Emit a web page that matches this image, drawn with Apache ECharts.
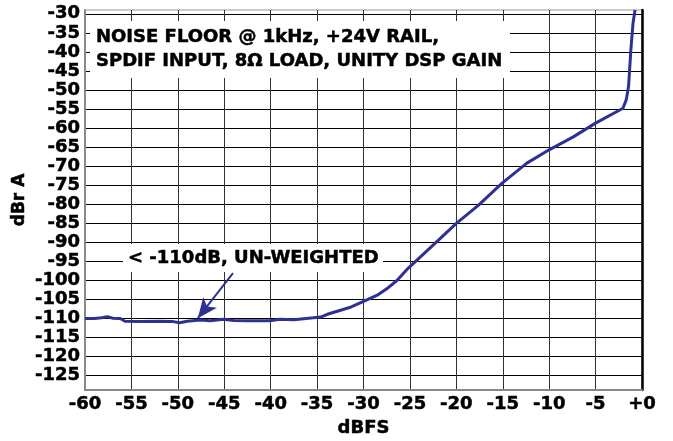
<!DOCTYPE html>
<html>
<head>
<meta charset="utf-8">
<script src="https://cdn.jsdelivr.net/npm/echarts@6/dist/echarts.min.js"></script>
<style>
  html, body { margin: 0; padding: 0; background: #fff; }
  #chart { width: 673px; height: 441px; }
</style>
</head>
<body>
<div id="chart"></div>
<script>
// data
var dbfs = [-60, -59, -58.2, -57.6, -57, -56.2, -55.7, -54, -52, -50.5, -49.8, -49, -47.6, -46.5, -45.1, -44,
  -42.6, -40.1, -39, -37.5, -35.4, -34.6, -33.8, -31.5, -30, -28.4, -27.5, -26.4, -25.2, -22.1, -20, -17.6,
  -15.1, -12.4, -10, -7.4, -5, -2.05, -1.7, -1.45, -1.2, -0.97, -0.75];
var dbrA = [-110, -110, -109.8, -109.5, -109.9, -110, -110.7, -110.8, -110.7, -110.8, -111.1, -110.7, -110.4,
  -110.6, -110.2, -110.5, -110.6, -110.6, -110.2, -110.3, -109.8, -109.6, -108.8, -107.1, -105.5, -103.7,
  -102.2, -100, -96.8, -89.8, -85, -80.2, -74.5, -69.2, -65.7, -62.3, -58.7, -54.8, -52.6, -49.1, -39.5,
  -32.5, -29];

var xTicks = [-60, -55, -50, -45, -40, -35, -30, -25, -20, -15, -10, -5, 0];
var xTickLabels = ['-60', '-55', '-50', '-45', '-40', '-35', '-30', '-25', '-20', '-15', '-10', '-5', '+0'];
var yTicks = [-30, -35, -40, -45, -50, -55, -60, -65, -70, -75, -80, -85, -90, -95, -100, -105, -110, -115, -120, -125];

// annotation arrow (data coords)
var arrowFrom = [-44.06, -98.1];
var arrowTo = [-47.85, -109.9];

var FONT = '"DejaVu Sans", Verdana, sans-serif';
var lineColor = '#2e3192';
// a hair of stroke to get closer to the heavy Verdana look
var heavy = { textBorderColor: '#000', textBorderWidth: 0.5 };

var chart = echarts.init(document.getElementById('chart'));

var points = dbfs.map(function (x, i) { return [x, dbrA[i]]; });

chart.setOption({
  animation: false,
  grid: {
    left: 85, right: 31, top: 10, bottom: 51,
    outerBoundsMode: 'none',
    show: true, borderColor: '#999', borderWidth: 1
  },
  xAxis: {
    type: 'value',
    min: -60,
    max: 0,
    name: 'dBFS',
    nameLocation: 'middle',
    nameGap: 29,
    nameMoveOverlap: false,
    nameTextStyle: Object.assign({ fontFamily: FONT, fontWeight: 'bold', fontSize: 18, color: '#000' }, heavy),
    axisLine: { show: true, onZero: false, lineStyle: { color: '#888', width: 2 } },
    axisTick: { show: false, customValues: xTicks },
    axisLabel: Object.assign({
      customValues: xTicks,
      margin: 5,
      fontFamily: FONT, fontWeight: 'bold', fontSize: 18, color: '#000',
      formatter: function (v) { return xTickLabels[xTicks.indexOf(v)]; }
    }, heavy),
    splitLine: { show: true, lineStyle: { color: '#333', width: 1 } }
  },
  yAxis: [{
    type: 'value',
    min: -128.75,
    max: -29,
    name: 'dBr A',
    nameLocation: 'middle',
    nameGap: 57,
    nameMoveOverlap: false,
    nameTextStyle: Object.assign({ fontFamily: FONT, fontWeight: 'bold', fontSize: 17, color: '#000' }, heavy),
    axisLine: { show: true, onZero: false, lineStyle: { color: '#888', width: 2 } },
    axisTick: { show: false, customValues: yTicks },
    axisLabel: Object.assign({
      customValues: yTicks,
      margin: 5,
      fontFamily: FONT, fontWeight: 'bold', fontSize: 18, color: '#000'
    }, heavy),
    splitLine: { show: true, lineStyle: { color: '#000', width: 1 } }
  }, {
    type: 'value',
    position: 'right',
    min: -128.75,
    max: -29,
    axisLine: { show: true, onZero: false, lineStyle: { color: '#000', width: 2.5 } },
    axisTick: { show: false },
    axisLabel: { show: false },
    splitLine: { show: false }
  }],
  series: [{
    type: 'line',
    data: points,
    showSymbol: false,
    lineStyle: { color: lineColor, width: 3 },
    z: 5,
    markLine: {
      silent: true,
      symbol: ['none', 'arrow'],
      symbolSize: [13, 20],
      label: { show: false },
      lineStyle: { color: lineColor, width: 2, type: 'solid' },
      data: [[{ coord: arrowFrom }, { coord: arrowTo }]]
    }
  }],
  graphic: [
    { type: 'rect', z: 100, shape: { x: 90, y: 21, width: 420, height: 57 }, style: { fill: '#fff' } },
    {
      type: 'text', z: 101, x: 96, y: 26,
      style: {
        text: 'NOISE FLOOR @ 1kHz, +24V RAIL,\nSPDIF INPUT, 8Ω LOAD, UNITY DSP GAIN',
        font: 'bold 18px ' + FONT, fill: '#000', lineHeight: 23.5, verticalAlign: 'top',
        stroke: '#000', lineWidth: 0.5
      }
    },
    { type: 'rect', z: 100, shape: { x: 123, y: 244, width: 260, height: 28 }, style: { fill: '#fff' } },
    {
      type: 'text', z: 101, x: 128, y: 258,
      style: {
        text: '< -110dB, UN-WEIGHTED', font: 'bold 18px ' + FONT, fill: '#000', verticalAlign: 'middle',
        stroke: '#000', lineWidth: 0.5
      }
    }
  ]
});
</script>
</body>
</html>
